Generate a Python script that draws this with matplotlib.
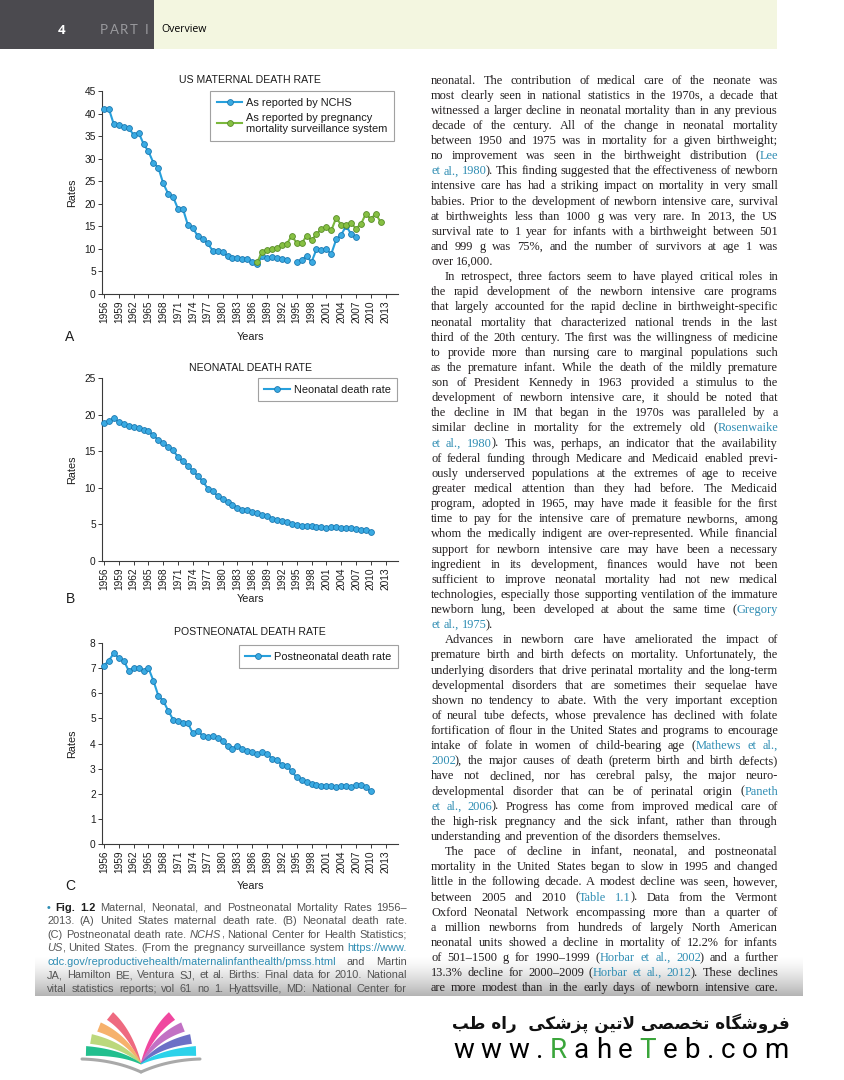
import numpy as np
import matplotlib.pyplot as plt
from matplotlib.font_manager import FontProperties, findfont
from matplotlib.ft2font import FT2Font
from matplotlib.patches import Rectangle, Polygon
from matplotlib.colors import LinearSegmentedColormap

PAGE_W, PAGE_H = 844, 1080

# ---- chart data ----
maternal_years = list(range(1956, 2008))
maternal_nchs = [40.9, 41.0, 37.6, 37.4, 37.1, 36.9, 35.2, 35.8, 33.3, 31.6,
                 29.1, 28.0, 24.5, 22.2, 21.5, 18.8, 18.8, 15.2, 14.6, 12.8,
                 12.3, 11.2, 9.6, 9.6, 9.2, 8.5, 7.9, 8.0, 7.8, 7.8,
                 7.2, 6.6, 8.4, 7.9, 8.2, 7.9, 7.8, 7.5, np.nan, 7.1,
                 7.6, 8.4, 7.1, 9.9, 9.8, 9.9, 8.9, 12.1, 13.1, 15.1,
                 13.3, 12.7]
pmss_years = list(range(1987, 2013))
maternal_pmss = [7.0, 9.4, 9.8, 10.0, 10.3, 10.8, 11.1, 12.9, 11.3, 11.2,
                 12.9, 12.0, 13.2, 14.5, 14.8, 14.1, 16.9, 15.3, 15.4, 15.7,
                 14.5, 15.5, 17.8, 16.6, 17.8, 15.9]
infant_years = list(range(1956, 2011))
neonatal_rate = [18.9, 19.1, 19.5, 19.0, 18.7, 18.4, 18.3, 18.2, 17.9, 17.7,
                 17.2, 16.5, 16.1, 15.6, 15.1, 14.2, 13.6, 13.0, 12.3, 11.6,
                 10.9, 9.9, 9.5, 8.9, 8.5, 8.0, 7.7, 7.3, 7.0, 7.0,
                 6.7, 6.5, 6.3, 6.2, 5.8, 5.6, 5.4, 5.3, 5.1, 4.9,
                 4.8, 4.8, 4.8, 4.7, 4.6, 4.5, 4.7, 4.6, 4.5, 4.5,
                 4.5, 4.4, 4.3, 4.2, 4.0]
postneonatal_rate = [7.1, 7.3, 7.6, 7.4, 7.3, 6.9, 7.0, 7.0, 6.9, 7.0,
                     6.5, 5.9, 5.7, 5.3, 4.95, 4.9, 4.8, 4.8, 4.4, 4.5,
                     4.3, 4.25, 4.3, 4.2, 4.1, 3.9, 3.8, 3.9, 3.8, 3.7,
                     3.65, 3.6, 3.65, 3.6, 3.4, 3.35, 3.15, 3.1, 2.9, 2.65,
                     2.55, 2.45, 2.4, 2.35, 2.3, 2.3, 2.3, 2.25, 2.3, 2.3,
                     2.25, 2.35, 2.35, 2.25, 2.1]
year_ticks = list(range(1956, 2014, 3))

# ---- page text ----
header_labels = ["4", "PART I", "Overview"]
body_lines = [
    "neonatal. The contribution of medical care of the neonate was",
    "most clearly seen in national statistics in the 1970s, a decade that",
    "witnessed a larger decline in neonatal mortality than in any previous",
    "decade of the century. All of the change in neonatal mortality",
    "between 1950 and 1975 was in mortality for a given birthweight;",
    "no improvement was seen in the birthweight distribution ([Lee]",
    "[et al., 1980]). This finding suggested that the effectiveness of newborn",
    "intensive care has had a striking impact on mortality in very small",
    "babies. Prior to the development of newborn intensive care, survival",
    "at birthweights less than 1000 g was very rare. In 2013, the US",
    "survival rate to 1 year for infants with a birthweight between 501",
    "and 999 g was 75%, and the number of survivors at age 1 was",
    "over 16,000.",
    "In retrospect, three factors seem to have played critical roles in",
    "the rapid development of the newborn intensive care programs",
    "that largely accounted for the rapid decline in birthweight-specific",
    "neonatal mortality that characterized national trends in the last",
    "third of the 20th century. The first was the willingness of medicine",
    "to provide more than nursing care to marginal populations such",
    "as the premature infant. While the death of the mildly premature",
    "son of President Kennedy in 1963 provided a stimulus to the",
    "development of newborn intensive care, it should be noted that",
    "the decline in IM that began in the 1970s was paralleled by a",
    "similar decline in mortality for the extremely old ([Rosenwaike]",
    "[et al., 1980]). This was, perhaps, an indicator that the availability",
    "of federal funding through Medicare and Medicaid enabled previ-",
    "ously underserved populations at the extremes of age to receive",
    "greater medical attention than they had before. The Medicaid",
    "program, adopted in 1965, may have made it feasible for the first",
    "time to pay for the intensive care of premature newborns, among",
    "whom the medically indigent are over-represented. While financial",
    "support for newborn intensive care may have been a necessary",
    "ingredient in its development, finances would have not been",
    "sufficient to improve neonatal mortality had not new medical",
    "technologies, especially those supporting ventilation of the immature",
    "newborn lung, been developed at about the same time ([Gregory]",
    "[et al., 1975]).",
    "Advances in newborn care have ameliorated the impact of",
    "premature birth and birth defects on mortality. Unfortunately, the",
    "underlying disorders that drive perinatal mortality and the long-term",
    "developmental disorders that are sometimes their sequelae have",
    "shown no tendency to abate. With the very important exception",
    "of neural tube defects, whose prevalence has declined with folate",
    "fortification of flour in the United States and programs to encourage",
    "intake of folate in women of child-bearing age ([Mathews et al.,]",
    "[2002]), the major causes of death (preterm birth and birth defects)",
    "have not declined, nor has cerebral palsy, the major neuro-",
    "developmental disorder that can be of perinatal origin ([Paneth]",
    "[et al., 2006]). Progress has come from improved medical care of",
    "the high-risk pregnancy and the sick infant, rather than through",
    "understanding and prevention of the disorders themselves.",
    "The pace of decline in infant, neonatal, and postneonatal",
    "mortality in the United States began to slow in 1995 and changed",
    "little in the following decade. A modest decline was seen, however,",
    "between 2005 and 2010 ([Table 1.1]). Data from the Vermont",
    "Oxford Neonatal Network encompassing more than a quarter of",
    "a million newborns from hundreds of largely North American",
    "neonatal units showed a decline in mortality of 12.2% for infants",
    "of 501\u20131500 g for 1990\u20131999 ([Horbar et al., 2002]) and a further",
    "13.3% decline for 2000\u20132009 ([Horbar et al., 2012]). These declines",
    "are more modest than in the early days of newborn intensive care.",
]
body_indent_rows = (13, 37, 51)
body_ragged_rows = (12, 36, 50)

caption_lines = [
    "[\u2022] *Fig. 1.2* Maternal, Neonatal, and Postneonatal Mortality Rates 1956\u2013",
    "2013. (A) United States maternal death rate. (B) Neonatal death rate.",
    "(C) Postneonatal death rate. _NCHS_, National Center for Health Statistics;",
    "_US_, United States. (From the pregnancy surveillance system [https://www.]",
    "[cdc.gov/reproductivehealth/maternalinfanthealth/pmss.html] and Martin",
    "JA, Hamilton BE, Ventura SJ, et al. Births: Final data for 2010. National",
    "vital statistics reports; vol 61 no 1. Hyattsville, MD: National Center for",
]

store_name = "فروشگاه تخصصی لاتین پزشکی  راه طب"
store_url = "www.RaheTeb.com"

BLUE, BLUE_FACE, BLUE_EDGE = "#27a0dc", "#3aaae2", "#1b78b0"
GREEN, GREEN_FACE, GREEN_EDGE = "#7bb83d", "#86c043", "#588c28"
INK = "#1c1c1c"
LINK = "#2f8db3"

plt.rcParams['font.family'] = ['Liberation Sans', 'DejaVu Sans']

fig = plt.figure(figsize=(PAGE_W / 100, PAGE_H / 100), dpi=100)
renderer = fig.canvas.get_renderer()

# full-page axes in pixel units (y down) for everything that is not a chart
page = fig.add_axes([0, 0, 1, 1])
page.set_xlim(0, PAGE_W)
page.set_ylim(PAGE_H, 0)
page.axis('off')

_fonts = {}


def advance(s, prop):
    """Pen advance of a string in pixels (text is drawn from its pen origin)."""
    key = (findfont(prop), prop.get_size_in_points())
    font = _fonts.get(key)
    if font is None:
        font = FT2Font(key[0], hinting_factor=1)
        font.set_size(key[1], 100)
        _fonts[key] = font
    return sum(font.load_char(ord(c)).linearHoriAdvance / 65536 for c in s)


def text_width(s, prop):
    w, _, _ = renderer.get_text_width_height_descent(s, prop, ismath=False)
    return w


def space_width(prop):
    return text_width('n n', prop) - text_width('nn', prop)


def parse_line(line):
    """Split a marked-up line into words made of (text, style) runs."""
    bold = italic = link = False
    words, cur = [], []
    for ch in line:
        if ch == '[':
            link = True
            continue
        if ch == ']':
            link = False
            continue
        if ch == '*':
            bold = not bold
            continue
        if ch == '_':
            italic = not italic
            continue
        if ch == ' ':
            if cur:
                words.append(cur)
                cur = []
            continue
        style = (bold, italic, link)
        if cur and cur[-1][1] == style:
            cur[-1][0] += ch
        else:
            cur.append([ch, style])
    if cur:
        words.append(cur)
    return words


def make_prop(family, size, style):
    bold, italic, _ = style
    return FontProperties(family=family, size=size,
                          weight='bold' if bold else 'normal',
                          style='italic' if italic else 'normal')


def word_layout(word, family, size):
    """Run offsets inside a word (by pen advance) and the word's drawn width."""
    offsets, x = [], 0.0
    for t, st in word:
        offsets.append(x)
        x += advance(t, make_prop(family, size, st))
    last_t, last_st = word[-1]
    return offsets, offsets[-1] + text_width(last_t, make_prop(family, size, last_st))


def fit_size(lines, x0, x1, family, indent_rows=(), ragged_rows=(), indent=0, ref=10.0):
    space = space_width(make_prop(family, ref, (False, False, False)))
    ratio = np.inf
    for i, line in enumerate(lines):
        if i in ragged_rows:
            continue
        words = parse_line(line)
        nat = sum(word_layout(w, family, ref)[1] for w in words)
        nat += space * (len(words) - 1)
        avail = x1 - x0 - (indent if i in indent_rows else 0)
        ratio = min(ratio, avail / nat)
    return ref * ratio


def draw_block(lines, x0, x1, base0, step, family, size, ink, bold_ink=None,
               indent_rows=(), ragged_rows=(), indent=0):
    """Justified text block, one Text per styled run."""
    space = space_width(make_prop(family, size, (False, False, False)))
    for i, line in enumerate(lines):
        words = parse_line(line)
        left = x0 + (indent if i in indent_rows else 0)
        layouts = [word_layout(w, family, size) for w in words]
        total = sum(lay[1] for lay in layouts)
        if i in ragged_rows or len(words) < 2:
            gap = space
        else:
            gap = (x1 - left - total) / (len(words) - 1)
        x = left
        y = base0 + i * step
        for w, (offs, wlen) in zip(words, layouts):
            for (t, st), off in zip(w, offs):
                color = LINK if st[2] else (bold_ink if (st[0] and bold_ink) else ink)
                page.text(x + off, y, t, fontproperties=make_prop(family, size, st),
                          color=color, ha='left', va='baseline', zorder=3)
            x += wlen + gap


def shape_persian(text):
    """Tiny contextual shaper for the footer line (presentation forms, visual order)."""
    forms = {
        'ف': (0xFED1, 0xFED2, 0xFED3, 0xFED4), 'ر': (0xFEAD, 0xFEAE, None, None),
        'و': (0xFEED, 0xFEEE, None, None), 'ش': (0xFEB5, 0xFEB6, 0xFEB7, 0xFEB8),
        'گ': (0xFB92, 0xFB93, 0xFB94, 0xFB95), 'ا': (0xFE8D, 0xFE8E, None, None),
        'ه': (0xFEE9, 0xFEEA, 0xFEEB, 0xFEEC), 'ت': (0xFE95, 0xFE96, 0xFE97, 0xFE98),
        'خ': (0xFEA5, 0xFEA6, 0xFEA7, 0xFEA8), 'ص': (0xFEB9, 0xFEBA, 0xFEBB, 0xFEBC),
        'ی': (0xFBFC, 0xFBFD, 0xFBFE, 0xFBFF), 'ن': (0xFEE5, 0xFEE6, 0xFEE7, 0xFEE8),
        'پ': (0xFB56, 0xFB57, 0xFB58, 0xFB59), 'ز': (0xFEAF, 0xFEB0, None, None),
        'ک': (0xFB8E, 0xFB8F, 0xFB90, 0xFB91), 'ط': (0xFEC1, 0xFEC2, 0xFEC3, 0xFEC4),
        'ب': (0xFE8F, 0xFE90, 0xFE91, 0xFE92), 'لا': (0xFEFB, 0xFEFC, None, None),
    }
    out_words = []
    for word in text.split(' '):
        units = []
        i = 0
        while i < len(word):
            if word[i:i + 2] == 'لا':
                units.append('لا')
                i += 2
            else:
                units.append(word[i])
                i += 1
        shaped = []
        for k, u in enumerate(units):
            iso, fin, ini, med = forms[u]
            prev_joins = k > 0 and forms[units[k - 1]][2] is not None
            next_joins = k < len(units) - 1 and ini is not None
            if prev_joins and next_joins:
                code = med
            elif prev_joins:
                code = fin
            elif next_joins:
                code = ini
            else:
                code = iso
            shaped.append(chr(code))
        out_words.append(''.join(reversed(shaped)))
    return ' '.join(reversed(out_words))


def tracked_text(s, x0, x1, y, prop, colors):
    """Letter-spaced text filling x0..x1."""
    widths = [advance(c, prop) for c in s]
    track = (x1 - x0 - sum(widths)) / (len(s) - 1)
    x = x0
    for ch, cw, col in zip(s, widths, colors):
        if ch != ' ':
            page.text(x, y, ch, fontproperties=prop, ha='left', va='baseline', color=col)
        x += cw + track


# ---- header ----
page.add_patch(Rectangle((0, 0), 154, 49, fc="#4b4a4f", ec='none'))
page.add_patch(Rectangle((154, 0), 623, 49, fc="#f3f6e0", ec='none'))
page.text(62, 30, header_labels[0], color='white', fontsize=9.5, fontweight='bold',
          family='Open Sans', ha='center', va='center')
part_prop = FontProperties(family='Lato', size=9.5)
tracked_text(header_labels[1], 100, 148, 33.5, part_prop, ['#9a9a9e'] * len(header_labels[1]))
page.text(161, 30, header_labels[2], color='black', fontsize=7.6, family='Open Sans',
          ha='left', va='center')

# ---- bottom shading of the scanned page ----
shade = LinearSegmentedColormap.from_list('shade', ['#ffffff', '#b4b4b4'])
ramp = np.linspace(0, 1, 60)[:, None] ** 1.4
page.imshow(ramp, extent=(35, 803, 996, 956), cmap=shade, aspect='auto', zorder=1)
page.set_xlim(0, PAGE_W)
page.set_ylim(PAGE_H, 0)

# ---- body text column ----
body_family = 'Liberation Serif'
body_size = fit_size(body_lines, 431, 778, body_family, body_indent_rows, body_ragged_rows, 14)
draw_block(body_lines, 431, 778, 83.5, 15.13, body_family, body_size, "#231f20",
           indent_rows=body_indent_rows, ragged_rows=body_ragged_rows, indent=14)

# ---- figure caption ----
cap_family = 'Liberation Sans'
cap_size = fit_size(caption_lines, 47, 407, cap_family)
draw_block(caption_lines, 47, 407, 911, 13.45, cap_family, cap_size, "#555555",
           bold_ink="#1e1e1e")


# ---- footer logo ----
def page_band(outer, ctrl, tip, width, color):
    t = np.linspace(0, 1, 50)[:, None]
    o, c, s = np.array(outer), np.array(ctrl), np.array(tip)
    pts = (1 - t) ** 2 * o + 2 * (1 - t) * t * c + t ** 2 * s
    d = 2 * (1 - t) * (c - o) + 2 * t * (s - c)
    n = np.column_stack([-d[:, 1], d[:, 0]]) / np.linalg.norm(d, axis=1)[:, None]
    half = 0.5 * width * (1 - t) ** 0.9 + 0.4
    poly = np.vstack([pts + n * half, (pts - n * half)[::-1]])
    page.add_patch(Polygon(poly, closed=True, fc=color, ec='none', zorder=2))


spine_tip = (141, 1064)
left_pages = [((110, 1016), (130, 1032), 9, "#ee6a80"),
              ((99, 1027), (127, 1038), 9, "#f6b16c"),
              ((91, 1039), (124, 1045), 9, "#bcd87c"),
              ((86, 1051), (121, 1052), 9, "#22bf8e")]
right_colors = ["#f0479f", "#c271c4", "#6c70c6", "#2bd2ea"]
for (outer, ctrl, width, color), rcolor in zip(left_pages, right_colors):
    page_band(outer, ctrl, spine_tip, width, color)
    page_band((282 - outer[0], outer[1]), (282 - ctrl[0], ctrl[1]), spine_tip, width, rcolor)
tb = np.linspace(0, 1, 40)
for sx in (82, 200):
    bx = (1 - tb) ** 2 * sx + 2 * (1 - tb) * tb * (sx + (141 - sx) * 0.55) + tb ** 2 * 141
    by = (1 - tb) ** 2 * 1059 + 2 * (1 - tb) * tb * 1060 + tb ** 2 * 1072
    page.plot(bx, by, color="#a9a9a9", lw=2.2, solid_capstyle='round', zorder=2)

# ---- footer shop name and url ----
fa_text = shape_persian(store_name)
fa_ref = FontProperties(family='DejaVu Sans', size=13, weight='bold')
fa_size = 13 * (790 - 453) / text_width(fa_text, fa_ref)
page.text(790, 1029, fa_text,
          fontproperties=FontProperties(family='DejaVu Sans', size=fa_size, weight='bold'),
          color='#111111', ha='right', va='baseline')

url_prop = FontProperties(family='Roboto', size=20)
tracked_text(store_url, 453, 789, 1058, url_prop,
             ["#3aa53a" if ch in "RT" else "black" for ch in store_url])


# ---- the three charts ----
def px_axes(left, top, right, bottom):
    return fig.add_axes([left / PAGE_W, 1 - bottom / PAGE_H,
                         (right - left) / PAGE_W, (bottom - top) / PAGE_H])


def draw_panel(ax, series, ylim, ystep, title, letter, legend_anchor):
    for years, values, line_c, face_c, edge_c, label in series:
        ax.plot(years, values, '-o', color=line_c, lw=1.5, ms=4.2, mfc=face_c,
                mec=edge_c, mew=0.6, label=label, clip_on=False, zorder=3)
    ax.set_xlim(1955.6, 2015.5)
    ax.set_ylim(*ylim)
    ax.set_yticks(np.arange(ylim[0], ylim[1] + ystep / 2, ystep))
    ax.set_xticks(year_ticks)
    ax.set_xticklabels([str(y) for y in year_ticks], rotation=90)
    for side in ('top', 'right'):
        ax.spines[side].set_visible(False)
    for side in ('left', 'bottom'):
        ax.spines[side].set_color('#3a3a3a')
        ax.spines[side].set_linewidth(0.8)
    ax.tick_params(length=3, width=0.7, color='#3a3a3a', labelsize=7.3,
                   labelcolor=INK, pad=1.5)
    ax.patch.set_alpha(0)
    ax.set_title(title, fontsize=7.6, color=INK, y=1.055, va='center', pad=0)
    ax.set_xlabel('Years', fontsize=7.8, color=INK, va='center')
    ax.set_ylabel('Rates', fontsize=7.8, color=INK, va='center')
    ax.xaxis.set_label_coords(0.5, -0.21, transform=ax.transAxes)
    ax.yaxis.set_label_coords(-0.101, 0.5, transform=ax.transAxes)
    ax.text(-0.108, -0.21, letter, transform=ax.transAxes, fontsize=10,
            color=INK, ha='center', va='center')
    leg = ax.legend(loc='upper right', bbox_to_anchor=legend_anchor, fontsize=7.9,
                    frameon=True, fancybox=False, edgecolor='#8a8a8a',
                    handlelength=2.3, handletextpad=0.35, borderpad=0.6,
                    labelspacing=0.45, borderaxespad=0)
    leg.get_frame().set_linewidth(0.8)
    for txt in leg.get_texts():
        txt.set_color(INK)


ax_a = px_axes(102, 91, 398, 294)
draw_panel(ax_a,
           [(maternal_years, maternal_nchs, BLUE, BLUE_FACE, BLUE_EDGE, 'As reported by NCHS'),
            (pmss_years, maternal_pmss, GREEN, GREEN_FACE, GREEN_EDGE,
             'As reported by pregnancy\nmortality surveillance system')],
           (0, 45), 5, 'US MATERNAL DEATH RATE', 'A', (0.9865, 1.0))

ax_b = px_axes(102, 378, 398, 561)
draw_panel(ax_b,
           [(infant_years, neonatal_rate, BLUE, BLUE_FACE, BLUE_EDGE, 'Neonatal death rate')],
           (0, 25), 5, 'NEONATAL DEATH RATE', 'B', (0.9966, 1.0))

ax_c = px_axes(102, 643, 398, 844)
draw_panel(ax_c,
           [(infant_years, postneonatal_rate, BLUE, BLUE_FACE, BLUE_EDGE, 'Postneonatal death rate')],
           (0, 8), 1, 'POSTNEONATAL DEATH RATE', 'C', (1.0, 0.99))

fig.savefig('out.png', dpi=100)
